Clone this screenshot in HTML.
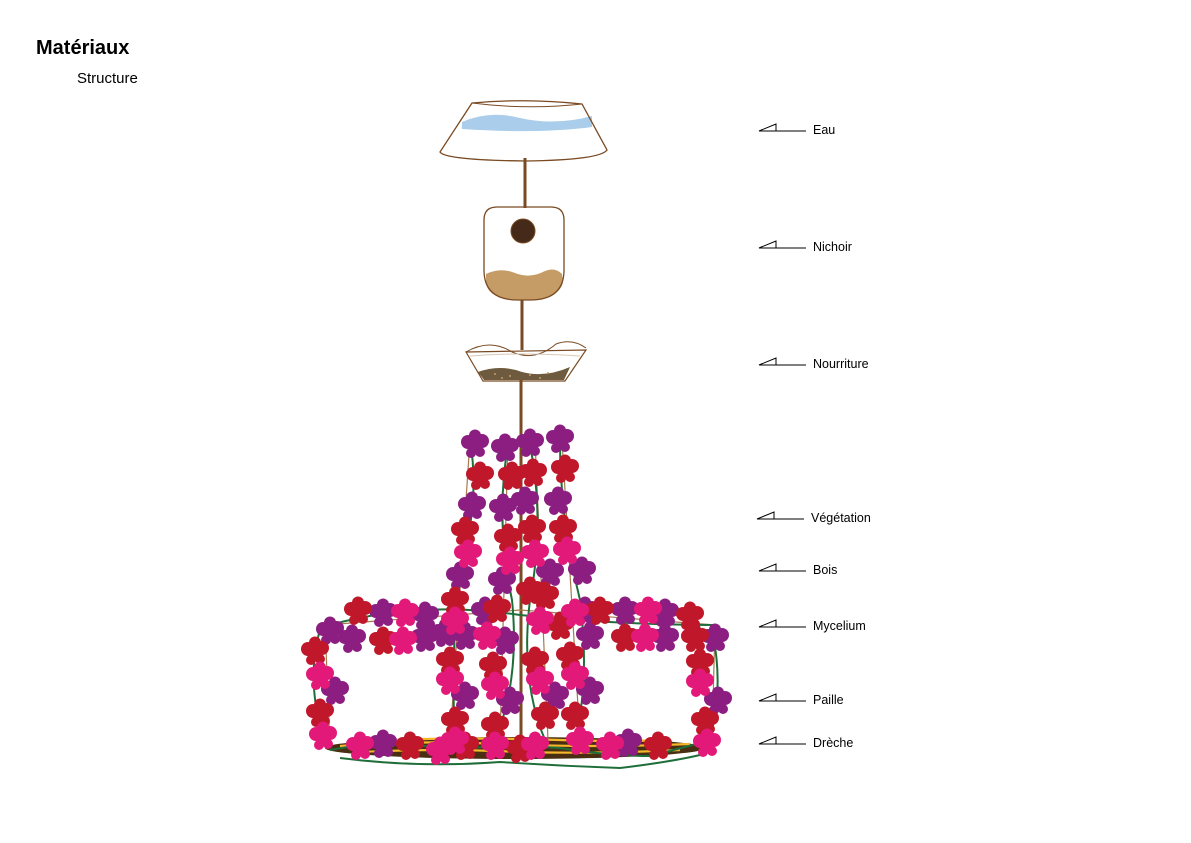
<!DOCTYPE html>
<html><head><meta charset="utf-8"><style>
html,body{margin:0;padding:0;background:#fff;}
svg{display:block;}
text{font-family:"Liberation Sans",sans-serif;}
</style></head><body>
<svg width="1191" height="843" viewBox="0 0 1191 843" xmlns="http://www.w3.org/2000/svg">
<defs>
<g id="f">
<circle cx="0" cy="-7.5" r="6"/><circle cx="-7" cy="-1" r="7"/><circle cx="7" cy="-2" r="7"/>
<circle cx="0" cy="3" r="8"/><circle cx="-4" cy="10" r="5"/><circle cx="5" cy="9" r="5"/>
</g>
</defs>
<text x="36" y="54" font-size="20" font-weight="bold" fill="#000">Matériaux</text>
<text x="77" y="83" font-size="15" fill="#000">Structure</text>

<g stroke="#000" stroke-width="1" fill="none">
<path d="M759 131 L776 124 L776 131 Z M776 131 H806"/>
<path d="M759 248 L776 241 L776 248 Z M776 248 H806"/>
<path d="M759 365 L776 358 L776 365 Z M776 365 H806"/>
<path d="M757 519 L774 512 L774 519 Z M774 519 H804"/>
<path d="M759 571 L776 564 L776 571 Z M776 571 H806"/>
<path d="M759 627 L776 620 L776 627 Z M776 627 H806"/>
<path d="M759 701 L776 694 L776 701 Z M776 701 H806"/>
<path d="M759 744 L776 737 L776 744 Z M776 744 H806"/>
</g>
<g font-size="12.5" fill="#000">
<text x="813" y="134">Eau</text>
<text x="813" y="251">Nichoir</text>
<text x="813" y="368">Nourriture</text>
<text x="811" y="522">Végétation</text>
<text x="813" y="574">Bois</text>
<text x="813" y="630">Mycelium</text>
<text x="813" y="704">Paille</text>
<text x="813" y="747">Drèche</text>
</g>

<g stroke="#7a4a22" stroke-width="3" fill="none">
<line x1="525" y1="158" x2="525" y2="208"/>
<line x1="522" y1="300" x2="522" y2="350"/>
<line x1="521" y1="380" x2="521" y2="740"/>
</g>

<path d="M462 122 Q490 110 520 118 Q555 126 592 116 L592 127 Q540 134 462 129 Z" fill="#a9cdea"/>
<path d="M472 103 Q527 98 582 104 L607 150 Q600 160 525 161 Q445 160 440 152 Z" fill="none" stroke="#7a4a22" stroke-width="1.3"/>
<path d="M472 103 Q527 110 582 104" fill="none" stroke="#7a4a22" stroke-width="1"/>

<path d="M486 274 Q500 267 515 273 Q530 279 545 271 Q555 267 562 274 L563 282 Q560 298 530 300 L515 300 Q487 298 486 282 Z" fill="#c69c66"/>
<path d="M497 207 H551 Q564 207 564 220 V270 Q564 300 530 300 H518 Q484 300 484 270 V220 Q484 207 497 207 Z" fill="none" stroke="#7a4a22" stroke-width="1.3"/>
<circle cx="523" cy="231" r="12" fill="#452a1a" stroke="#7a4a22" stroke-width="1"/>

<path d="M478 372 Q500 364 522 372 Q545 378 570 367 L564 380 H484 Z" fill="#6e5a3e"/>
<g fill="#c69c66"><circle cx="495" cy="374" r="1"/><circle cx="510" cy="376" r="1"/><circle cx="530" cy="375" r="1"/><circle cx="548" cy="373" r="1"/><circle cx="502" cy="378" r="1"/><circle cx="540" cy="378" r="1"/></g>
<path d="M466 352 L586 350 L565 381 L483 381 Z" fill="none" stroke="#7a4a22" stroke-width="1.2"/>
<path d="M466 352 Q490 338 512 352 Q535 362 556 344 Q572 338 586 348" fill="none" stroke="#7a4a22" stroke-width="1"/>
<path d="M470 356 Q520 352 580 356" fill="none" stroke="#d8c8b8" stroke-width="1"/>

<ellipse cx="515" cy="748" rx="190" ry="11" fill="#4a2e12"/>
<g stroke="#f4b72c" stroke-width="2.2" fill="none">
<path d="M340 746 Q420 740 500 744 Q600 748 690 744"/>
<path d="M360 752 Q440 748 520 752 Q600 754 680 750"/>
<path d="M390 740 Q470 737 560 740 Q620 742 670 740"/>
</g>

<g stroke="#a57a50" stroke-width="1.2" fill="none">
<path d="M325 625 L520 610 L715 625"/>
<path d="M325 625 L330 745 M715 625 L712 745"/>
<path d="M470 440 L450 740 M508 440 L500 740 M535 440 L548 740 M562 440 L580 740"/>
</g>

<g stroke="#1f6e3a" stroke-width="2" fill="none">
<path d="M330 750 Q390 738 450 750 Q500 744 560 748 Q610 756 650 756 Q690 746 710 740"/>
<path d="M340 758 Q420 768 500 762 Q560 766 620 768 Q670 762 700 755"/>
<path d="M320 630 Q305 680 325 745"/>
<path d="M712 630 Q725 690 708 745"/>
<path d="M330 625 Q420 600 520 615 Q620 625 715 625"/>
<path d="M470 440 Q480 500 462 560 Q450 640 455 740"/>
<path d="M508 445 Q495 520 512 600 Q520 680 495 740"/>
<path d="M530 445 Q545 520 530 600 Q520 680 545 740"/>
<path d="M560 440 Q560 520 580 600 Q590 680 575 740"/>
</g>

<g fill="#8b1e80">
<use href="#f" x="475" y="443"/><use href="#f" x="472" y="505"/><use href="#f" x="460" y="575"/>
<use href="#f" x="505" y="447"/><use href="#f" x="503" y="507"/><use href="#f" x="502" y="580"/>
<use href="#f" x="530" y="442"/><use href="#f" x="525" y="500"/><use href="#f" x="550" y="572"/>
<use href="#f" x="560" y="438"/><use href="#f" x="558" y="500"/><use href="#f" x="582" y="570"/>
<use href="#f" x="383" y="612"/><use href="#f" x="425" y="615"/><use href="#f" x="330" y="630"/>
<use href="#f" x="352" y="638"/><use href="#f" x="425" y="637"/><use href="#f" x="445" y="632"/>
<use href="#f" x="465" y="635"/><use href="#f" x="485" y="610"/><use href="#f" x="505" y="640"/>
<use href="#f" x="590" y="635"/><use href="#f" x="625" y="610"/><use href="#f" x="665" y="612"/>
<use href="#f" x="665" y="637"/><use href="#f" x="715" y="637"/><use href="#f" x="335" y="690"/>
<use href="#f" x="718" y="700"/><use href="#f" x="465" y="695"/><use href="#f" x="510" y="700"/>
<use href="#f" x="555" y="695"/><use href="#f" x="590" y="690"/><use href="#f" x="383" y="743"/>
<use href="#f" x="628" y="742"/><use href="#f" x="585" y="610"/>
</g>
<g fill="#c0182a">
<use href="#f" x="480" y="475"/><use href="#f" x="465" y="530"/><use href="#f" x="455" y="600"/>
<use href="#f" x="512" y="475"/><use href="#f" x="508" y="537"/><use href="#f" x="497" y="608"/>
<use href="#f" x="533" y="472"/><use href="#f" x="532" y="528"/><use href="#f" x="565" y="468"/>
<use href="#f" x="563" y="528"/><use href="#f" x="358" y="610"/><use href="#f" x="383" y="640"/>
<use href="#f" x="560" y="625"/><use href="#f" x="600" y="610"/><use href="#f" x="625" y="637"/>
<use href="#f" x="690" y="615"/><use href="#f" x="695" y="637"/><use href="#f" x="315" y="650"/>
<use href="#f" x="320" y="712"/><use href="#f" x="700" y="662"/><use href="#f" x="705" y="720"/>
<use href="#f" x="450" y="660"/><use href="#f" x="455" y="720"/><use href="#f" x="493" y="665"/>
<use href="#f" x="495" y="725"/><use href="#f" x="535" y="660"/><use href="#f" x="545" y="715"/>
<use href="#f" x="570" y="655"/><use href="#f" x="575" y="715"/><use href="#f" x="410" y="745"/>
<use href="#f" x="465" y="745"/><use href="#f" x="520" y="748"/><use href="#f" x="658" y="745"/>
<use href="#f" x="545" y="595"/><use href="#f" x="530" y="590"/>
</g>
<g fill="#e3197a">
<use href="#f" x="468" y="553"/><use href="#f" x="510" y="560"/><use href="#f" x="535" y="553"/>
<use href="#f" x="567" y="550"/><use href="#f" x="405" y="612"/><use href="#f" x="403" y="640"/>
<use href="#f" x="487" y="635"/><use href="#f" x="540" y="620"/><use href="#f" x="575" y="612"/>
<use href="#f" x="648" y="610"/><use href="#f" x="645" y="637"/><use href="#f" x="320" y="675"/>
<use href="#f" x="323" y="735"/><use href="#f" x="700" y="682"/><use href="#f" x="707" y="742"/>
<use href="#f" x="450" y="680"/><use href="#f" x="495" y="685"/><use href="#f" x="540" y="680"/>
<use href="#f" x="575" y="675"/><use href="#f" x="360" y="745"/><use href="#f" x="440" y="750"/>
<use href="#f" x="455" y="740"/><use href="#f" x="495" y="745"/><use href="#f" x="535" y="745"/>
<use href="#f" x="580" y="740"/><use href="#f" x="610" y="745"/><use href="#f" x="455" y="620"/>
</g>
</svg>
</body></html>
